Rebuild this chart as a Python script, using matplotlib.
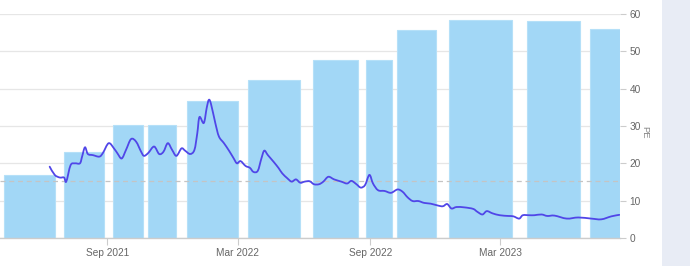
import matplotlib
matplotlib.use("Agg")
import matplotlib.pyplot as plt
import matplotlib.dates as mdates
import numpy as np
import pandas as pd
from matplotlib.patches import Rectangle, PathPatch
from matplotlib.path import Path

# ---- data ----
bar_start = ["2021-04-10", "2021-07-03", "2021-09-09", "2021-10-27", "2021-12-21", "2022-03-16",
             "2022-06-13", "2022-08-26", "2022-10-08", "2022-12-20", "2023-04-07", "2023-07-03"]
bar_end = ["2021-06-21", "2021-08-27", "2021-10-21", "2021-12-06", "2022-03-01", "2022-05-27",
           "2022-08-15", "2022-10-01", "2022-12-01", "2023-03-17", "2023-06-20", "2023-08-14"]
bar_values = [17.0, 23.0, 30.4, 30.4, 36.7, 42.4, 47.8, 47.8, 55.8, 58.3, 58.0, 56.0]

line_dates = ["2021-06-13", "2021-06-20", "2021-06-27", "2021-07-03", "2021-07-06", "2021-07-12",
              "2021-07-18", "2021-07-25", "2021-07-28", "2021-08-01", "2021-08-05", "2021-08-12",
              "2021-08-21", "2021-08-26", "2021-09-03", "2021-09-11", "2021-09-15", "2021-09-21",
              "2021-09-27", "2021-10-04", "2021-10-11", "2021-10-18", "2021-10-22", "2021-10-28",
              "2021-11-05", "2021-11-12", "2021-11-18", "2021-11-24", "2021-11-30", "2021-12-06",
              "2021-12-13", "2021-12-18", "2021-12-25", "2021-12-31", "2022-01-04", "2022-01-07",
              "2022-01-13", "2022-01-17", "2022-01-20", "2022-01-23", "2022-01-29", "2022-02-03",
              "2022-02-10", "2022-02-17", "2022-02-23", "2022-02-28", "2022-03-05", "2022-03-12",
              "2022-03-18", "2022-03-23", "2022-03-29", "2022-04-03", "2022-04-07", "2022-04-12",
              "2022-04-20", "2022-04-27", "2022-05-02", "2022-05-09", "2022-05-15", "2022-05-21",
              "2022-05-27", "2022-06-02", "2022-06-09", "2022-06-15", "2022-06-22", "2022-06-28",
              "2022-07-05", "2022-07-13", "2022-07-23", "2022-07-31", "2022-08-06", "2022-08-13",
              "2022-08-19", "2022-08-25", "2022-08-31", "2022-09-05", "2022-09-12", "2022-09-21",
              "2022-09-30", "2022-10-09", "2022-10-16", "2022-10-23", "2022-10-30", "2022-11-07",
              "2022-11-15", "2022-11-24", "2022-12-04", "2022-12-11", "2022-12-17", "2022-12-23",
              "2022-12-30", "2023-01-10", "2023-01-22", "2023-01-28", "2023-02-04", "2023-02-10",
              "2023-02-18", "2023-02-28", "2023-03-12", "2023-03-19", "2023-03-27", "2023-04-01",
              "2023-04-10", "2023-04-17", "2023-04-27", "2023-05-05", "2023-05-15", "2023-06-01",
              "2023-06-17", "2023-07-05", "2023-07-19", "2023-08-02", "2023-08-13"]
line_values = [19.1, 16.9, 16.2, 16.2, 15.1, 19.5,
               20.0, 20.0, 21.8, 24.3, 22.5, 22.2,
               21.8, 22.8, 25.4, 23.8, 22.7, 21.3,
               23.6, 26.5, 25.8, 23.1, 22.0, 22.8,
               24.5, 22.5, 23.1, 25.4, 23.6, 22.0,
               24.0, 23.4, 22.5, 23.6, 28.1, 32.4,
               30.8, 34.8, 37.0, 35.9, 30.8, 27.2,
               25.4, 23.4, 21.5, 20.0, 20.6, 19.3,
               18.8, 17.7, 18.0, 21.3, 23.4, 22.2,
               20.4, 18.7, 17.3, 16.0, 15.1, 15.7,
               14.8, 15.1, 15.2, 14.4, 14.4, 15.1,
               16.4, 15.7, 15.1, 14.6, 15.3, 14.4,
               13.5, 14.2, 16.9, 14.6, 12.8, 12.6,
               12.1, 13.0, 12.4, 10.9, 9.9, 9.9,
               9.4, 9.2, 8.7, 8.5, 9.1, 7.9,
               8.3, 8.2, 7.8, 7.0, 6.3, 7.2,
               6.6, 6.1, 5.9, 5.8, 5.2, 6.1,
               6.1, 6.1, 6.3, 5.9, 6.0, 5.2,
               5.5, 5.2, 5.0, 5.8, 6.2]

avg_pe = 15.4
x_ticks = ["2021-09-01", "2022-03-01", "2022-09-01", "2023-03-01"]
x_tick_labels = ["Sep 2021", "Mar 2022", "Sep 2022", "Mar 2023"]
y_ticks = [0, 10, 20, 30, 40, 50, 60]
y_label = "PE"
x_range = ["2021-04-05", "2023-08-14"]

# ---- figure ----
plt.rcParams['font.family'] = ['Liberation Sans', 'DejaVu Sans']
fig = plt.figure(figsize=(6.9, 2.66), dpi=100)
fig.patches.append(Rectangle((662 / 690, 0), 1 - 662 / 690, 1, transform=fig.transFigure,
                             facecolor='#E8ECF5', edgecolor='none', zorder=0))
ax = fig.add_axes([0, 1 - 238 / 266, 620 / 690, (238 - 14) / 266])
ax.set_facecolor('white')

bs = pd.to_datetime(bar_start)
be = pd.to_datetime(bar_end)
left = mdates.date2num(bs)
width = mdates.date2num(be) - left
ax.bar(left, bar_values, width=width, align='edge', color='#A2D7F6',
       edgecolor='#B5E0F8', linewidth=0.8, zorder=2)

# smooth spline-style rendering of the line (cubic Bezier path through the data points)
lx = mdates.date2num(pd.to_datetime(line_dates))
ly = np.asarray(line_values, dtype=float)
verts = [(lx[0], ly[0])]
codes = [Path.MOVETO]
n = len(lx)
t = 0.5
for i in range(n - 1):
    x0, y0 = (lx[i - 1], ly[i - 1]) if i > 0 else (lx[i], ly[i])
    x1, y1 = lx[i], ly[i]
    x2, y2 = lx[i + 1], ly[i + 1]
    x3, y3 = (lx[i + 2], ly[i + 2]) if i + 2 < n else (x2, y2)
    c1 = (x1 + (x2 - x0) * t / 3, y1 + (y2 - y0) * t / 3)
    c2 = (x2 - (x3 - x1) * t / 3, y2 - (y3 - y1) * t / 3)
    verts += [c1, c2, (x2, y2)]
    codes += [Path.CURVE4] * 3
ax.add_patch(PathPatch(Path(verts, codes), facecolor='none', edgecolor='#5046E8',
                       linewidth=1.3, zorder=4, joinstyle='round', capstyle='round'))
ax.plot(lx, ly, color='none')

ax.axhline(avg_pe, color='#C4C4C4', linestyle=(0, (4, 3)), linewidth=0.9, zorder=3)

ax.set_xlim(mdates.date2num(pd.to_datetime(x_range)))
ax.set_ylim(0, 60)
ax.yaxis.tick_right()
ax.set_yticks(y_ticks)
ax.grid(axis='y', color='#E6E6E6', linewidth=0.9, zorder=0)
ax.set_axisbelow(True)
ax.set_xticks(mdates.date2num(pd.to_datetime(x_ticks)))
ax.set_xticklabels(x_tick_labels)
ax.tick_params(axis='x', length=5, color='#CCCCCC', labelcolor='#666666', labelsize=7.3, pad=2)
ax.tick_params(axis='y', length=4, color='#CCCCCC', labelcolor='#666666', labelsize=7.3, pad=3)
for s in ['top', 'left', 'right']:
    ax.spines[s].set_visible(False)
ax.spines['bottom'].set_color('#CCCCCC')
ax.spines['bottom'].set_linewidth(1.0)

fig.text(645 / 690, 1 - 132 / 266, y_label, rotation=270, ha='center', va='center',
         fontsize=6.8, color='#888888')

fig.savefig('out.png', dpi=100)
